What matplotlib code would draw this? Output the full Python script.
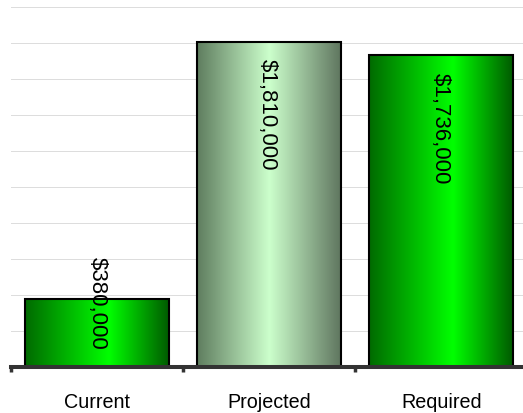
import numpy as np
import matplotlib
matplotlib.use('Agg')
import matplotlib.pyplot as plt
from matplotlib.colors import LinearSegmentedColormap

plt.rcParams['font.family'] = ['Liberation Sans', 'DejaVu Sans']

categories = ['Current', 'Projected', 'Required']
values = [380000, 1810000, 1736000]
labels = ['$380,000', '$1,810,000', '$1,736,000']

green = LinearSegmentedColormap.from_list(
    'green', [(0.0, '#006a00'), (0.58, '#00ff00'), (1.0, '#005800')])
pale = LinearSegmentedColormap.from_list(
    'pale', [(0.0, '#5f7d5f'), (0.5, '#ccffcc'), (1.0, '#5e745e')])
cmaps = [green, pale, green]

fig = plt.figure(figsize=(5.23, 4.14), dpi=100)
ax = fig.add_axes([0.0205, 0.1111, 0.9883, 0.8686])

x = np.arange(len(categories))
width = 0.836
bars = ax.bar(x, values, width=width, facecolor='none', edgecolor='black',
              linewidth=1.5, zorder=3)

grad = np.linspace(0, 1, 256).reshape(1, -1)
for b, cm in zip(bars, cmaps):
    x0, y0 = b.get_x(), b.get_y()
    im = ax.imshow(grad, cmap=cm, aspect='auto', zorder=2,
                   extent=[x0, x0 + b.get_width(), y0, y0 + b.get_height()])
    im.set_clip_path(b)

ax.set_xlim(-0.5, 2.5)
ax.set_ylim(0, 2000000)

# value labels, rotated, inside the top of the bar if they fit
for i, (v, lab) in enumerate(zip(values, labels)):
    if v > 800000:
        ax.annotate(lab, (i, v), xytext=(-1, -12), textcoords='offset points',
                    rotation=270, ha='center', va='top', fontsize=16, zorder=4)
    else:
        ax.annotate(lab, (i, 0), xytext=(0, 13), textcoords='offset points',
                    rotation=270, ha='center', va='bottom', fontsize=16, zorder=4)

ax.set_yticks(np.arange(0, 2000001, 200000))
ax.yaxis.grid(True, color='#dcdcdc', linewidth=0.7)
ax.set_axisbelow(True)
ax.tick_params(axis='y', length=0, labelleft=False)

ax.set_xticks(x)
ax.set_xticklabels(categories, fontsize=14.2)
ax.tick_params(axis='x', which='major', length=0, pad=18)
ax.set_xticks([-0.5, 0.5, 1.5, 2.5], minor=True)
ax.tick_params(axis='x', which='minor', length=3.5, width=2.5, color='#333333')

for s in ['top', 'right', 'left']:
    ax.spines[s].set_visible(False)
ax.spines['bottom'].set_color('#333333')
ax.spines['bottom'].set_linewidth(2.9)
ax.spines['bottom'].set_zorder(5)

fig.savefig('out.png', dpi=100)
